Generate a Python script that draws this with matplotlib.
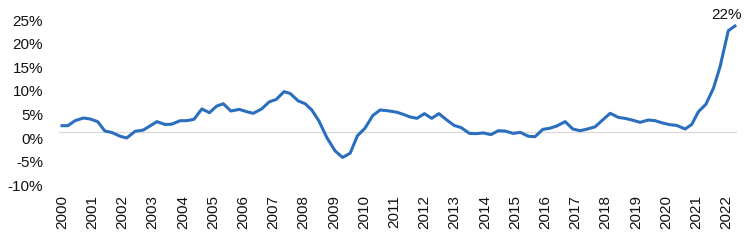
import matplotlib.pyplot as plt
import matplotlib.transforms as mtransforms

# Datos (fecha decimal, variacion en %)
fechas = [2000.00, 2000.19, 2000.43, 2000.71, 2000.93, 2001.18, 2001.42, 2001.65,
          2001.92, 2002.14, 2002.42, 2002.69, 2002.91, 2003.14, 2003.41, 2003.63,
          2003.91, 2004.13, 2004.37, 2004.63, 2004.88, 2005.12, 2005.34, 2005.59,
          2005.87, 2006.12, 2006.33, 2006.61, 2006.86, 2007.09, 2007.35, 2007.55,
          2007.82, 2008.05, 2008.27, 2008.51, 2008.77, 2009.04, 2009.29, 2009.54,
          2009.78, 2010.03, 2010.29, 2010.53, 2010.80, 2011.08, 2011.30, 2011.52,
          2011.75, 2012.00, 2012.24, 2012.48, 2012.74, 2012.98, 2013.21, 2013.49,
          2013.71, 2013.95, 2014.20, 2014.45, 2014.67, 2014.94, 2015.17, 2015.44,
          2015.66, 2015.92, 2016.14, 2016.38, 2016.66, 2016.91, 2017.15, 2017.38,
          2017.65, 2017.90, 2018.15, 2018.42, 2018.64, 2018.90, 2019.14, 2019.41,
          2019.64, 2019.89, 2020.13, 2020.35, 2020.63, 2020.85, 2021.07, 2021.32,
          2021.57, 2021.79, 2022.06, 2022.28]
valores = [1.34, 1.34, 2.4, 2.97, 2.76, 2.2, 0.2, -0.1,
           -0.9, -1.27, 0.15, 0.42, 1.27, 2.2, 1.6, 1.66,
           2.4, 2.4, 2.7, 4.9, 4.1, 5.5, 6.0, 4.46,
           4.8, 4.3, 3.97, 4.9, 6.4, 6.9, 8.56, 8.2,
           6.6, 6.0, 4.67, 2.3, -1.2, -4.0, -5.4, -4.5,
           -0.8, 0.8, 3.5, 4.67, 4.5, 4.2, 3.75, 3.2,
           2.9, 3.9, 2.9, 3.9, 2.55, 1.4, 0.95, -0.3,
           -0.35, -0.2, -0.56, 0.28, 0.2, -0.3, -0.07, -0.9,
           -1.0, 0.56, 0.78, 1.27, 2.2, 0.64, 0.28, 0.6,
           1.1, 2.55, 3.97, 3.1, 2.9, 2.5, 2.05, 2.55,
           2.4, 1.9, 1.55, 1.4, 0.64, 1.6, 4.3, 5.9,
           9.3, 13.9, 21.5, 22.5]
anios = list(range(2000, 2023))
ticks_y = [-10, -5, 0, 5, 10, 15, 20, 25]
etiqueta_final = '22%'

plt.rcParams['font.family'] = ['Liberation Sans', 'DejaVu Sans']

fig = plt.figure(figsize=(7.5, 2.41), dpi=100)
ax = fig.add_axes([0.0787, 0.249, 0.904, 0.7095])

ax.axhline(0, color='#d9d9d9', linewidth=0.9, zorder=1)
ax.plot(fechas, valores, color='#2a6ebd', linewidth=2.2, solid_joinstyle='round', zorder=2)

ax.annotate(etiqueta_final, xy=(fechas[-1], valores[-1]), xytext=(-5.8, 7.9),
            textcoords='offset points', ha='center', va='center',
            fontsize=11, color='#111111')

ax.set_xlim(1999.90, 2022.35)
ax.set_ylim(-10.4, 25.9)
ax.set_xticks(anios)
ax.set_xticklabels([str(a) for a in anios], rotation=90, fontsize=11, color='#111111')
ax.set_yticks(ticks_y)
ax.set_yticklabels(['%d%%' % t for t in ticks_y], fontsize=11, color='#111111')
ax.tick_params(axis='both', length=0)
ax.tick_params(axis='y', pad=11.5)
ax.tick_params(axis='x', pad=10)

# Las etiquetas del eje y quedan un poco por debajo de su linea
desplazar = mtransforms.ScaledTranslation(0, -6 / 100, fig.dpi_scale_trans)
for etiqueta in ax.get_yticklabels():
    etiqueta.set_transform(etiqueta.get_transform() + desplazar)

for lado in ['top', 'right', 'left', 'bottom']:
    ax.spines[lado].set_visible(False)

fig.savefig('out.png', dpi=100)
